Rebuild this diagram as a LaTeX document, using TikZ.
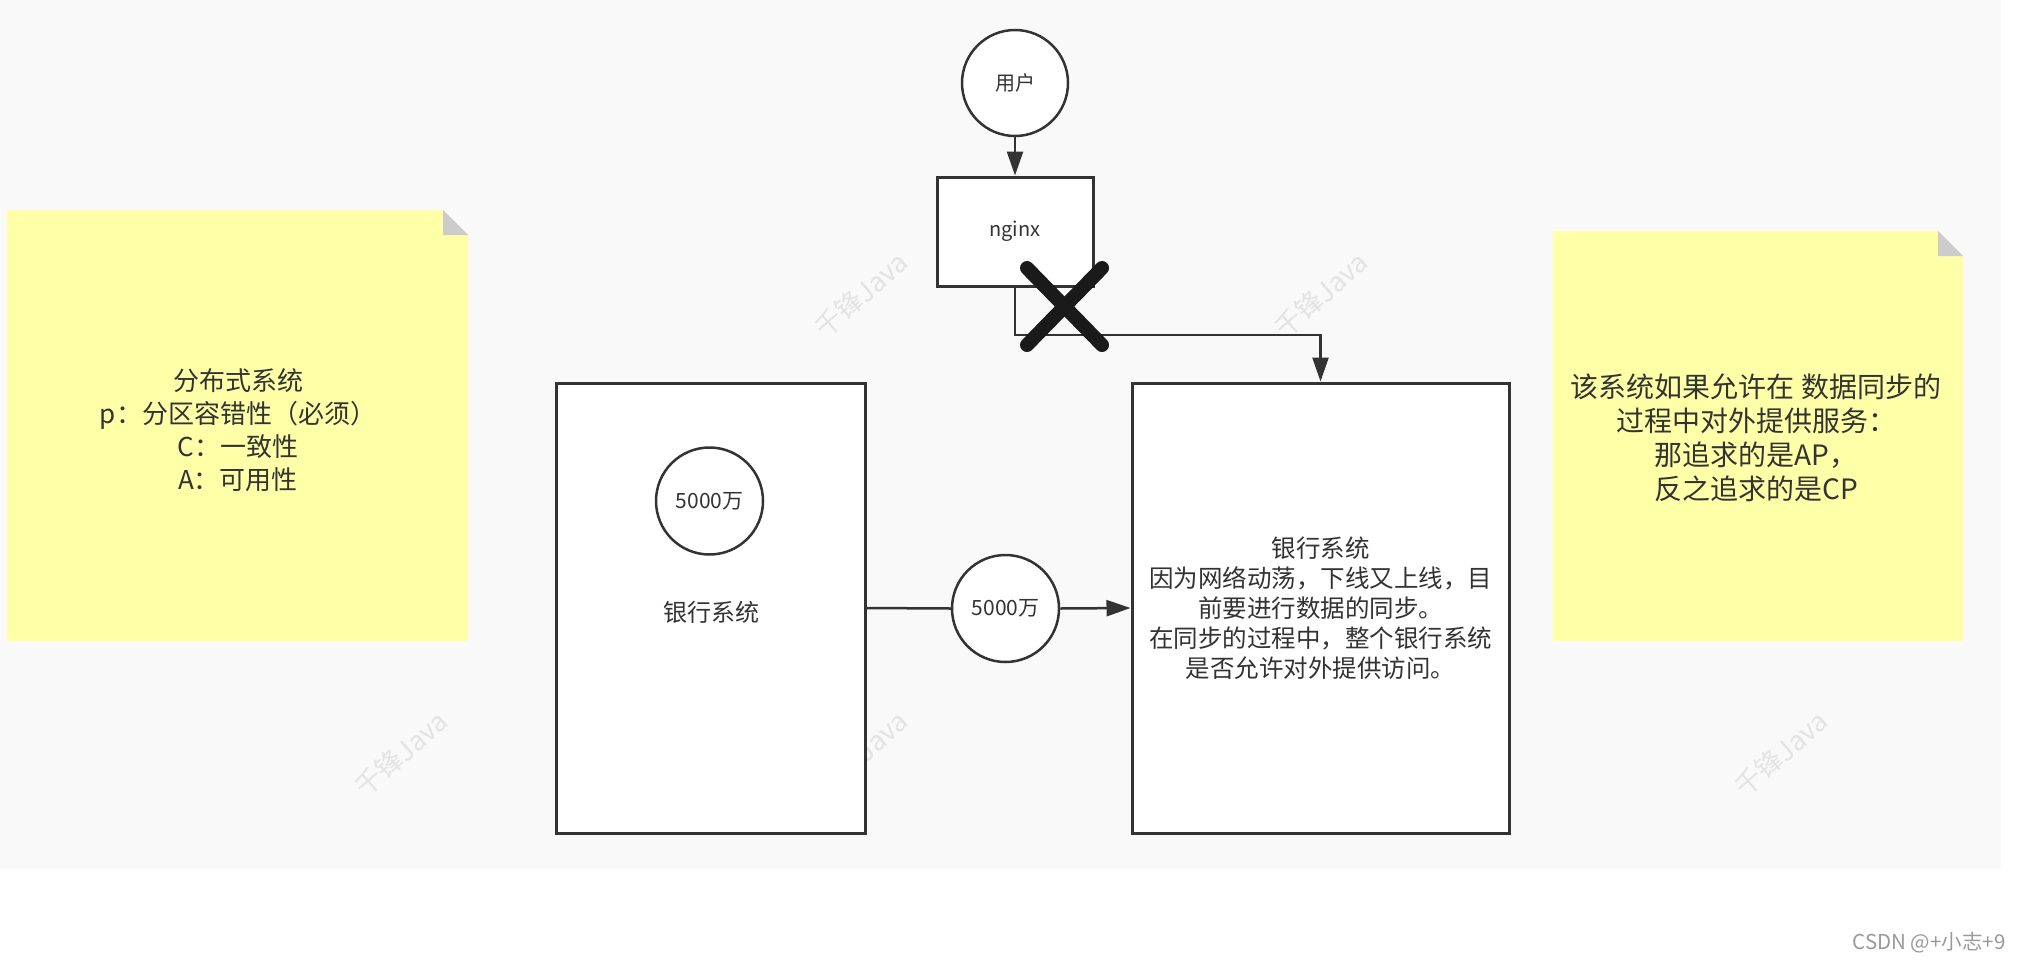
\documentclass[tikz,border=0pt]{standalone}
\usepackage{fontspec}
\setmainfont{Noto Sans CJK SC}
\usetikzlibrary{arrows.meta,shapes.geometric}
\definecolor{bgc}{HTML}{F9F9F9}
\definecolor{ink}{HTML}{333333}
\definecolor{notec}{HTML}{FFFFA8}
\definecolor{foldc}{HTML}{CCCCCC}
\definecolor{wmc}{HTML}{E3E3E3}
\definecolor{xmarkc}{HTML}{1A1A1A}
\definecolor{csdnc}{HTML}{999999}
\begin{document}
\begin{tikzpicture}[x=1pt,y=-1pt,
  box/.style={draw=ink, line width=3pt, fill=white, inner sep=0pt, text=ink},
  roundnode/.style={circle, draw=ink, line width=2.5pt, fill=white, inner sep=0pt, text=ink, minimum size=107pt, font=\fontsize{21}{24}\selectfont},
  conn/.style={draw=ink, line width=2.5pt},
  tip/.style={-{Triangle[length=24pt,width=16pt]}},
  notetext/.style={text=ink, align=center, font=\fontsize{26}{33}\selectfont},
  wmk/.style={text=wmc, rotate=41, font=\fontsize{27}{30}\selectfont}]
\useasboundingbox (0,0) rectangle (2025,964);
\fill[white] (0,0) rectangle (2025,964);
\fill[bgc] (0,0) rectangle (2001,869);
% watermarks
\node[wmk] (wm1) at (861,295) {千锋Java};
\node[wmk] (wm2) at (1321,295) {千锋Java};
\node[wmk] (wm3) at (401,754) {千锋Java};
\node[wmk] (wm4) at (861,754) {千锋Java};
\node[wmk] (wm5) at (1781,754) {千锋Java};
% sticky notes
\fill[notec] (7,210) -- (443,210) -- (468,235) -- (468,641) -- (7,641) -- cycle;
\fill[foldc] (443,210) -- (468,235) -- (443,235) -- cycle;
\node[notetext] (pnote) at (238,430) {分布式系统\\p：分区容错性（必须）\\C：一致性\\A：可用性};
\fill[notec] (1553,231) -- (1938,231) -- (1963,256) -- (1963,641) -- (1553,641) -- cycle;
\fill[foldc] (1938,231) -- (1963,256) -- (1938,256) -- cycle;
\node[notetext, font=\fontsize{28}{34}\selectfont] (apnote) at (1756,438) {该系统如果允许在 数据同步的\\过程中对外提供服务：\\那追求的是AP，\\反之追求的是CP};
% user and nginx
\node[circle, draw=ink, line width=2.5pt, fill=white, minimum size=106pt, inner sep=0pt, text=ink, font=\fontsize{20}{24}\selectfont] (user) at (1015,83) {用户};
\node[box, minimum width=156pt, minimum height=109pt, font=\fontsize{20}{24}\selectfont] (ng) at (1015,231.5) {nginx};
\draw[conn, tip] (user) -- (ng);
% bank systems
\node[box, minimum width=309pt, minimum height=450pt] (lbox) at (710.5,608) {};
\node[text=ink, font=\fontsize{24}{28}\selectfont] (llabel) at (711,612) {银行系统};
\node[roundnode] (lmoney) at (709.5,501) {5000万};
\node[box, minimum width=377pt, minimum height=450pt, align=center, font=\fontsize{24.5}{30}\selectfont] (rbox) at (1320.5,608) {银行系统\\因为网络动荡，下线又上线，目\\前要进行数据的同步。\\在同步的过程中，整个银行系统\\是否允许对外提供访问。};
\node[roundnode] (mmoney) at (1005.5,608.5) {5000万};
\draw[conn] (lbox.east) -- (mmoney.west);
\draw[conn, tip] (mmoney.east) -- (rbox.west);
% nginx to right system
\coordinate (bend) at (1015,335);
\draw[conn, tip] (ng.south) -- (bend) -| (rbox.north);
% cross mark
\coordinate (xc) at (1064.5,306.5);
\draw[xmarkc, line width=14pt, line cap=round] (1027,268) -- (1102,345);
\draw[xmarkc, line width=14pt, line cap=round] (1102,268) -- (1027,345);
% csdn mark
\node[anchor=east, text=csdnc, font=\fontsize{20.5}{24}\selectfont] (csdn) at (2009,943) {CSDN @+小志+9};
\end{tikzpicture}
\end{document}
